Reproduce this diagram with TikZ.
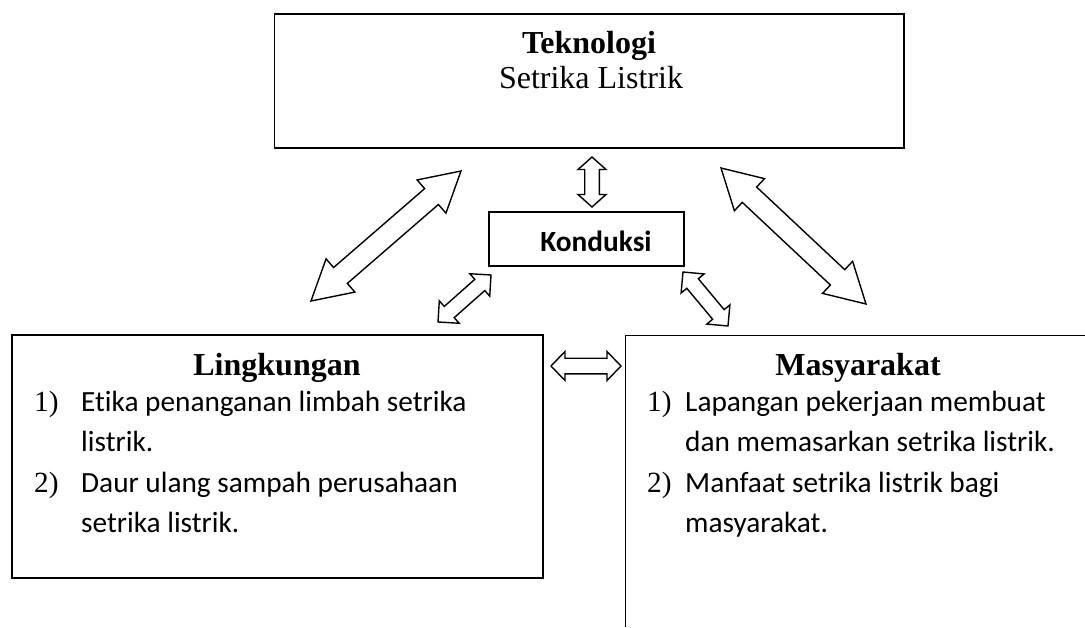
\documentclass[tikz,border=0pt]{standalone}
\usepackage{fontspec}
\setmainfont{Liberation Serif}
\newfontfamily\calibri[Ligatures=NoCommon]{Carlito}
\usetikzlibrary{calc}

\tikzset{
  box/.style={draw, line width=1.6pt, inner sep=0pt},
  barrow/.style={draw, line width=1.4pt, fill=white, line join=miter},
  head/.style={font=\fontsize{32}{38}\selectfont\bfseries, anchor=base, inner sep=0pt},
  sub/.style={font=\fontsize{32}{38}\selectfont, anchor=base, inner sep=0pt},
  num/.style={font=\fontsize{29.3}{40.5}\selectfont, anchor=base west, inner sep=0pt},
  item/.style={font=\calibri\fontsize{29.3}{40.5}\selectfont, anchor=base west, inner sep=0pt},
  kond/.style={font=\calibri\fontsize{29.3}{36}\selectfont\bfseries, anchor=base, inner sep=0pt},
}

% double-headed block arrow between two named points:
% #1 start, #2 end, #3 shaft half width, #4 head half width, #5 head length (pt)
\newcommand\blockarrow[5]{%
  \draw[barrow] let \p1=($(#2)-(#1)$), \n1={atan2(\y1,\x1)}, \n2={veclen(\x1,\y1)} in
    [shift={(#1)}, rotate=\n1]
    (0pt,0pt) -- (#5pt,#4pt) -- (#5pt,#3pt) -- ({\n2-#5pt},#3pt) -- ({\n2-#5pt},#4pt)
    -- ({\n2+0pt},0pt) -- ({\n2-#5pt},-#4pt) -- ({\n2-#5pt},-#3pt) -- (#5pt,-#3pt)
    -- (#5pt,-#4pt) -- cycle;}

\begin{document}
\begin{tikzpicture}[x=1pt, y=-1pt]
  \useasboundingbox (0,0) rectangle (1085,627);

  % boxes
  \node[box, minimum width=629.5pt, minimum height=134pt] (tek) at (589.25,81) {};
  \node[box, minimum width=195pt, minimum height=54pt] (kon) at (586.5,239) {};
  \node[box, minimum width=531pt, minimum height=243pt] (ling) at (277.5,456.5) {};
  \node[inner sep=0pt, minimum width=459.5pt, minimum height=291.5pt] (mas) at (855.25,481.25) {};
  \draw[line width=1.6pt] (mas.north east) -- (mas.north west) -- (mas.south west);

  % texts
  \node[head] (tekh) at (589,53) {Teknologi};
  \node[sub]  (teks) at (591,88) {Setrika Listrik};
  \node[kond] (konh) at (596,251) {Konduksi};
  \node[head] (lingh) at (277,375) {Lingkungan};
  \node[head] (mash) at (858,375) {Masyarakat};

  \node[num]  (l1n) at (34,411) {1)};
  \node[item] (l1a) at (81,411) {Etika penanganan limbah setrika};
  \node[item] (l1b) at (81,451.5) {listrik.};
  \node[num]  (l2n) at (34,492) {2)};
  \node[item] (l2a) at (81,492) {Daur ulang sampah perusahaan};
  \node[item] (l2b) at (81,532.5) {setrika listrik.};

  \node[num]  (m1n) at (647,411) {1)};
  \node[item] (m1a) at (685,411) {Lapangan pekerjaan membuat};
  \node[item] (m1b) at (685,451.5) {dan memasarkan setrika listrik.};
  \node[num]  (m2n) at (647,492) {2)};
  \node[item] (m2a) at (685,492) {Manfaat setrika listrik bagi};
  \node[item] (m2b) at (685,532.5) {masyarakat.};

  % arrow end points
  \coordinate (a1s) at (311,301);  \coordinate (a1e) at (461,171);
  \coordinate (a2s) at (721,168);  \coordinate (a2e) at (866,304);
  \coordinate (a3s) at (592,157);  \coordinate (a3e) at (592,207);
  \coordinate (a4s) at (491,275);  \coordinate (a4e) at (438,322);
  \coordinate (a5s) at (683,272);  \coordinate (a5e) at (728,326);
  \coordinate (a6s) at (551,366);  \coordinate (a6e) at (621,366);

  % block arrows
  \blockarrow{a1s}{a1e}{10.5}{22}{39}
  \blockarrow{a2s}{a2e}{10.5}{22}{39}
  \blockarrow{a3s}{a3e}{7.3}{14}{12.5}
  \blockarrow{a4s}{a4e}{7.5}{15}{15}
  \blockarrow{a5s}{a5e}{7.5}{15}{15}
  \blockarrow{a6s}{a6e}{7.8}{14.5}{14}
\end{tikzpicture}
\end{document}
